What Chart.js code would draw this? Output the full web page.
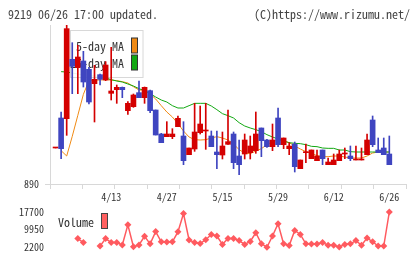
<!DOCTYPE html>
<html>
<head>
<meta charset="utf-8">
<script src="https://cdn.jsdelivr.net/npm/chart.js@4/dist/chart.umd.min.js"></script>
<style>
  body { margin: 0; width: 420px; height: 259px; background: #fff; position: relative; overflow: hidden; }
  canvas { position: absolute; left: 0; }
  .hd { position: absolute; top: 5px; font: 12px 'Noto Sans Mono CJK JP', 'DejaVu Sans Mono', monospace; color: #444; white-space: pre; }
</style>
</head>
<body>
<canvas id="price" width="420" height="259" style="top:0"></canvas>
<canvas id="vol" width="420" height="59" style="top:200px"></canvas>
<div class="hd" style="left:8px">9219 06/26 17:00 updated.</div>
<div class="hd" style="right:10px">(C)https://www.rizumu.net/</div>
<script>
var dates = ['3/30', '3/31', '4/1', '4/2', '4/3', '4/6', '4/7', '4/8', '4/9', '4/10',
    '4/13', '4/14', '4/15', '4/16', '4/17', '4/20', '4/21', '4/22', '4/23', '4/24',
    '4/27', '4/28', '4/30', '5/1', '5/7', '5/8', '5/11', '5/12', '5/13', '5/14',
    '5/15', '5/18', '5/19', '5/20', '5/21', '5/22', '5/25', '5/26', '5/27', '5/28',
    '5/29', '6/1', '6/2', '6/3', '6/4', '6/5', '6/8', '6/9', '6/10', '6/11',
    '6/12', '6/15', '6/16', '6/17', '6/18', '6/19', '6/22', '6/23', '6/24', '6/25',
    '6/26'];

var openP = [998, 1088, 1086, 1264, 1239, 1259, 1234, 1191, 1218, 1202,
    1162, 1173, 1180, 1110, 1122, 1164, 1149, 1170, 1112, 1040,
    1032, 1032, 1062, 1034, 978, 995, 1044, 1049, 1034, 986,
    977, 1009, 1040, 974, 980, 984, 990, 1058, 1022, 1002,
    1088, 1008, 996, 1010, 936, 984, 966, 960, 992, 948,
    948, 960, 980, 974, 962, 962, 978, 1082, 992, 998,
    980];
var highP = [998, 1106, 1368, 1314, 1306, 1288, 1240, 1246, 1220, 1257,
    1300, 1187, 1181, 1137, 1160, 1199, 1181, 1172, 1112, 1042,
    1077, 1056, 1094, 1077, 998, 1132, 1124, 1132, 1049, 1049,
    1046, 1112, 1046, 1022, 1040, 1034, 1106, 1058, 1024, 1070,
    1118, 1028, 1014, 1016, 962, 1010, 992, 992, 992, 968,
    980, 992, 998, 1004, 1004, 998, 1040, 1094, 1028, 1028,
    1034];
var lowP = [998, 966, 1036, 1161, 1161, 1181, 1130, 1076, 1187, 1200,
    1142, 1132, 1149, 1099, 1120, 1149, 1132, 1104, 1037, 1014,
    1032, 1026, 1062, 948, 978, 988, 1040, 994, 1002, 936,
    965, 1009, 936, 918, 965, 965, 982, 972, 1000, 990,
    1002, 996, 978, 926, 936, 954, 966, 960, 948, 948,
    948, 960, 966, 960, 962, 962, 978, 1002, 984, 978,
    948];
var closeP = [998, 996, 1356, 1243, 1271, 1196, 1136, 1204, 1204, 1247,
    1169, 1180, 1173, 1132, 1157, 1149, 1180, 1110, 1037, 1014,
    1040, 1040, 1087, 960, 998, 1046, 1070, 1052, 1002, 978,
    1004, 1017, 954, 948, 1022, 1004, 1040, 1020, 1002, 1022,
    1008, 1028, 1004, 942, 962, 986, 992, 974, 966, 956,
    962, 980, 980, 966, 962, 962, 1022, 1008, 984, 978,
    948];

var ma5 = [null, 990, 974, 1033, 1096, 1159, 1200, 1202, 1202, 1203,
    1202, 1200, 1197, 1193, 1182, 1172, 1172, 1160, 1145, 1125,
    1106, 1091, 1071, 1049, 1031, 1023, 1022, 1023, 1028, 1032,
    1028, 1022, 1010, 993, 983, 981, 989, 996, 1008, 1017,
    1022, 1019, 1014, 1004, 995, 987, 982, 975, 972, 972,
    974, 974, 971, 968, 968, 968, 974, 983, 986, 986,
    986];
var ma25 = [null, 1227, 1226, 1223, 1220, 1217, 1215, 1214, 1212, 1208,
    1203, 1199, 1196, 1190, 1184, 1176, 1170, 1161, 1151, 1142,
    1136, 1125, 1118, 1118, 1125, 1132, 1132, 1132, 1124, 1113,
    1101, 1095, 1088, 1074, 1064, 1058, 1053, 1047, 1038, 1031,
    1025, 1019, 1014, 1012, 1011, 1008, 1003, 1002, 998, 997,
    997, 992, 992, 987, 986, 986, 986, 986, 986, 986,
    986];

var volume = [null, null, null, null, 5920, 4140, null, null, 2590, 5920,
    4140, 4140, 3090, 12000, 2320, 3090, 6970, 3600, 9020, 4520,
    4370, 4520, 8900, 17040, 5300, 4140, 3750, 5420, 7740, 7080,
    3360, 5920, 5920, 5030, 3360, 4640, 8520, 3600, 2100, 7080,
    12500, 3600, 2820, 9560, 7740, 3600, 3480, 3480, 4140, 2980,
    2980, 2200, 3360, 3600, 5030, 2980, 6190, 4520, 2590, 2590,
    17700];

var priceTicks = [890];
var volumeTicks = [2200, 9950, 17700];
var dateTickIdx = [10, 20, 30, 40, 50, 60];

var RED = '#d40000';
var BLUE = '#3f45c0';
var AXIS = '#d8d8d8';
var FONT = "'Noto Sans Mono CJK JP', 'DejaVu Sans Mono', monospace";

var candleColors = openP.map(function (o, i) {
    return closeP[i] >= o ? RED : BLUE;
});

var bodies = dates.map(function (d, i) {
    return {x: i, y: [openP[i], closeP[i]]};
});
var wicks = dates.map(function (d, i) {
    return {x: i, y: [lowP[i], highP[i]]};
});
var ma5Pts = dates.map(function (d, i) {
    return {x: i, y: ma5[i]};
});
var ma25Pts = dates.map(function (d, i) {
    return {x: i, y: ma25[i]};
});
var volPts = dates.map(function (d, i) {
    return {x: i, y: volume[i]};
});

// legend box sits under the candles but over the MA lines
var maLegend = {
    id: 'maLegend',
    beforeDatasetDraw: function (chart, args) {
        if (args.index !== 1) return;
        var ctx = chart.ctx;
        var items = [chart.data.datasets[3], chart.data.datasets[2]];
        ctx.save();
        ctx.fillStyle = 'rgba(255,255,255,0.92)';
        ctx.fillRect(70, 30, 73, 47);
        ctx.strokeStyle = AXIS;
        ctx.lineWidth = 1;
        ctx.strokeRect(70.5, 30.5, 72.5, 47);
        ctx.font = '12px ' + FONT;
        ctx.textAlign = 'right';
        ctx.textBaseline = 'middle';
        items.forEach(function (ds, k) {
            var cy = 46 + k * 17;
            ctx.fillStyle = '#333';
            ctx.fillText(ds.label, 124, cy);
            ctx.fillStyle = ds.borderColor;
            ctx.fillRect(131.5, cy - 8, 6, 15);
            ctx.strokeStyle = '#333';
            ctx.strokeRect(131.5, cy - 8, 6, 15);
        });
        ctx.restore();
    }
};

var volLegend = {
    id: 'volLegend',
    afterDraw: function (chart) {
        var ctx = chart.ctx;
        var ds = chart.data.datasets[0];
        ctx.save();
        ctx.font = '12px ' + FONT;
        ctx.textAlign = 'right';
        ctx.textBaseline = 'middle';
        ctx.fillStyle = '#333';
        ctx.fillText(ds.label, 94, 22);
        ctx.fillStyle = '#ff6060';
        ctx.fillRect(101.5, 13.5, 6, 15);
        ctx.strokeStyle = '#444';
        ctx.strokeRect(101.5, 13.5, 6, 15);
        ctx.restore();
    }
};

Chart.defaults.font.family = FONT;
Chart.defaults.font.size = 10;
Chart.defaults.color = '#333';

new Chart(document.getElementById('price').getContext('2d'), {
    type: 'bar',
    data: {
        datasets: [{
                label: 'body',
                data: bodies,
                backgroundColor: candleColors,
                barThickness: 5,
                minBarLength: 1,
                grouped: false,
                order: 0
            }, {
                label: 'wick',
                data: wicks,
                backgroundColor: candleColors,
                barThickness: 1,
                grouped: false,
                order: 1
            }, {
                type: 'line',
                label: '25-day MA',
                data: ma25Pts,
                borderColor: '#12a812',
                borderWidth: 1,
                pointRadius: 0,
                tension: 0,
                order: 2
            }, {
                type: 'line',
                label: '5-day MA',
                data: ma5Pts,
                borderColor: '#f08a14',
                borderWidth: 1,
                pointRadius: 0,
                tension: 0,
                order: 3
            }]
    },
    options: {
        responsive: false,
        animation: false,
        layout: {padding: {top: 25, right: 14, left: 0, bottom: 54}},
        plugins: {legend: {display: false}, tooltip: {enabled: false}},
        scales: {
            x: {
                type: 'linear',
                min: -1,
                max: 63,
                offset: false,
                weight: 0,
                afterBuildTicks: function (s) {
                    var t = [];
                    for (var k = 0; k <= 11; k++) {
                        t.push({value: -1 + k * 64 / 11});
                    }
                    s.ticks = t;
                },
                afterFit: function (s) { s.height = 6; },
                ticks: {display: false},
                grid: {drawOnChartArea: false, offset: false, color: AXIS, tickLength: 5},
                border: {color: AXIS}
            },
            xl: {
                type: 'linear',
                position: 'bottom',
                min: -1,
                max: 63,
                offset: false,
                weight: 1,
                afterBuildTicks: function (s) {
                    s.ticks = dateTickIdx.map(function (i) { return {value: i}; });
                },
                afterFit: function (s) { s.height = 15; },
                ticks: {
                    padding: 1,
                    maxRotation: 0,
                    autoSkip: false,
                    callback: function (v) { return dates[v]; }
                },
                grid: {display: false, drawTicks: false, offset: false},
                border: {display: false}
            },
            y: {
                min: 890,
                max: 1367,
                afterBuildTicks: function (s) {
                    s.ticks = priceTicks.map(function (v) { return {value: v}; });
                },
                afterFit: function (s) { s.width = 50; },
                ticks: {padding: 6},
                grid: {drawOnChartArea: false, color: AXIS, tickLength: 5},
                border: {color: AXIS}
            }
        }
    },
    plugins: [maLegend]
});

new Chart(document.getElementById('vol').getContext('2d'), {
    type: 'line',
    data: {
        datasets: [{
                label: 'Volume',
                data: volPts,
                borderColor: '#ff5a5f',
                backgroundColor: '#ff5a5f',
                borderWidth: 1.5,
                pointStyle: 'rectRot',
                pointRadius: 3.5,
                pointBorderWidth: 0,
                spanGaps: false,
                clip: false,
                tension: 0
            }]
    },
    options: {
        responsive: false,
        animation: false,
        layout: {padding: {top: 9, right: 14, left: 0, bottom: 10}},
        plugins: {legend: {display: false}, tooltip: {enabled: false}},
        scales: {
            x: {type: 'linear', min: -1, max: 63, display: false},
            y: {
                min: 2200,
                max: 17700,
                afterBuildTicks: function (s) {
                    s.ticks = volumeTicks.map(function (v) { return {value: v}; });
                },
                afterFit: function (s) { s.width = 50; },
                ticks: {
                    padding: 6,
                    callback: function (v) { return String(v); }
                },
                grid: {display: false, drawTicks: false},
                border: {display: false}
            }
        }
    },
    plugins: [volLegend]
});
</script>
</body>
</html>
